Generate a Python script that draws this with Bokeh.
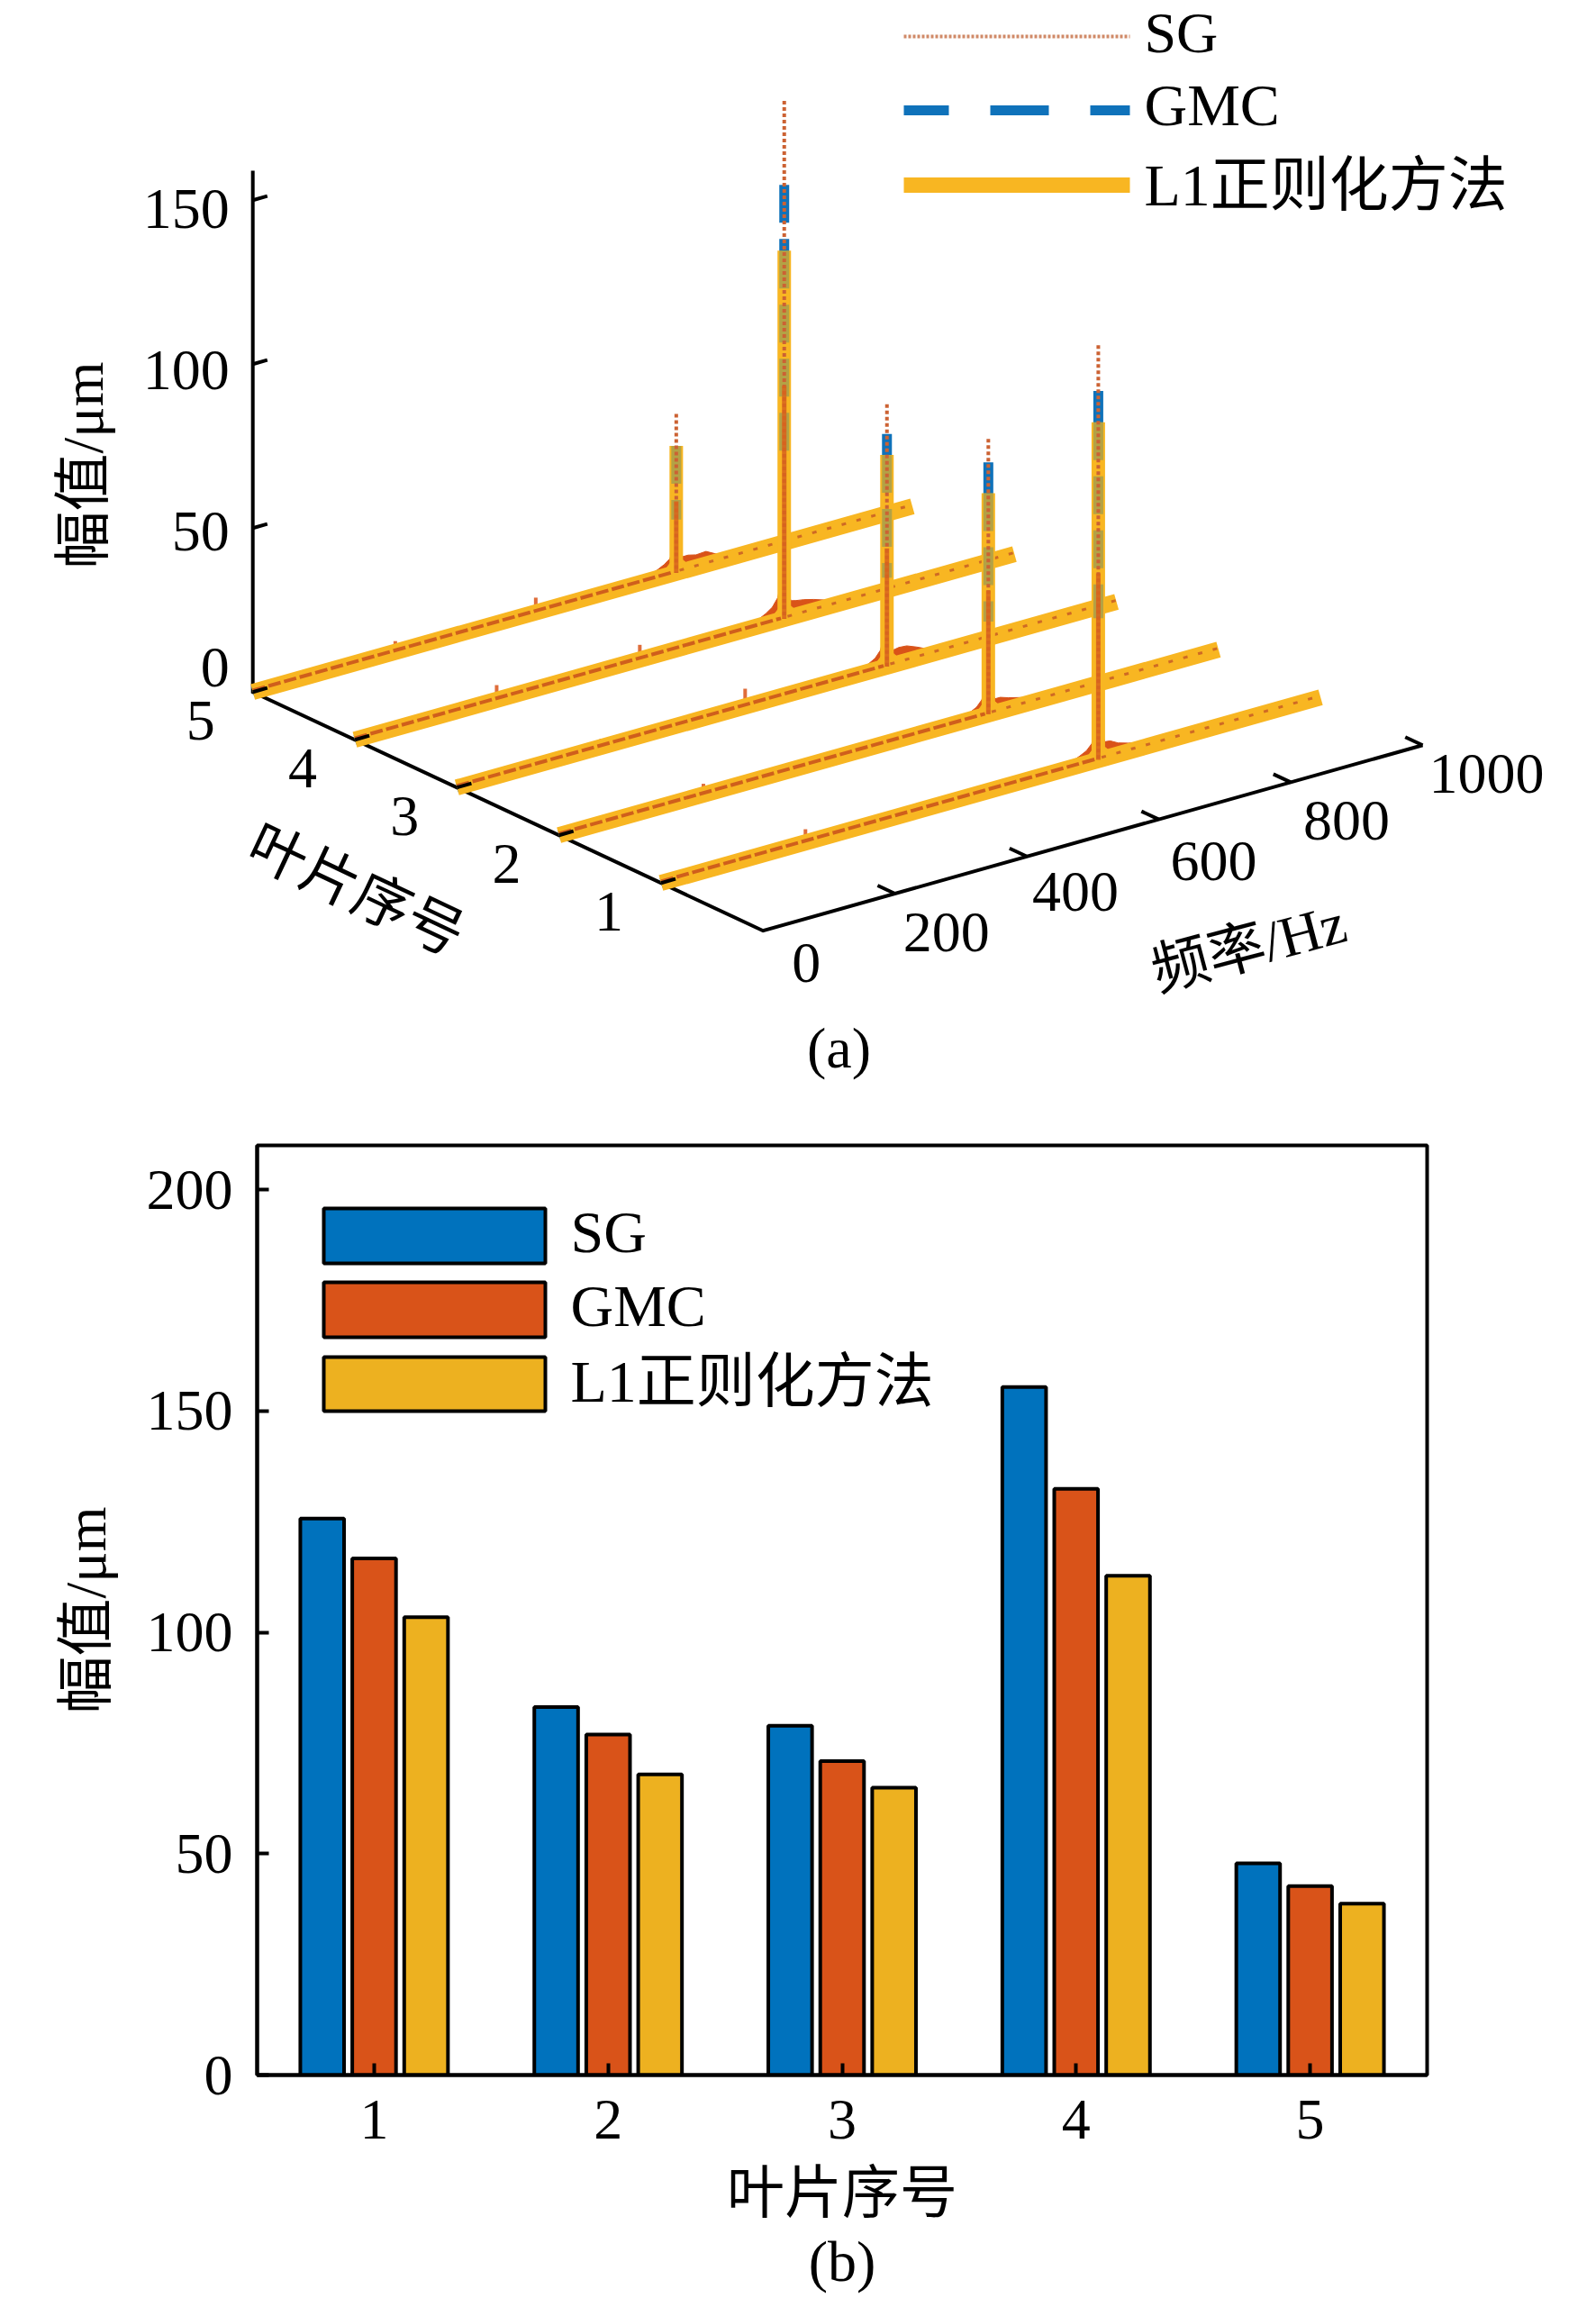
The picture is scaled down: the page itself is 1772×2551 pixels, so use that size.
from bokeh.plotting import figure
from bokeh.layouts import column
from bokeh.models import Title, FixedTicker, Range1d
from bokeh.core.properties import value
from bokeh.embed import file_html
from bokeh.resources import INLINE

# ---------- data ----------
blades = [1, 2, 3, 4, 5]
series_names = ["SG", "GMC", "L1正则化方法"]
# panel (b) bars
sg_peak = [125.7, 83.1, 78.9, 155.4, 47.8]
gmc_peak = [116.7, 76.9, 70.9, 132.4, 42.7]
l1_peak = [103.4, 67.9, 64.9, 112.8, 38.7]
# panel (a) spectra
sg_wave = [126.5, 84.0, 80.0, 158.0, 48.5]
gmc_wave = [112.5, 76.9, 70.9, 132.4, 42.7]
l1_wave = [103.0, 67.5, 64.5, 112.3, 38.7]

peak_hz = [663, 651, 652, 651, 642]
bump1_hz = [219, 219, 219, 215, 216]
bump1_um = [4.0, 3.3, 2.5, 4.5, 3.3]
bump2_hz = [438, 436, 437, 432, 429]
bump2_um = [1.5, 1.0, 5.4, 4.5, 4.5]
base_um = 0.5

skirt_offset_hz = [-60, -40, -28, -18, -10, -5, -2, 2, 5, 10, 18, 30, 45, 60, 75]
skirt_um = [
    [0.8, 1.8, 2.8, 3.8, 5.5, 9.0, 16, 16, 8.0, 5.0, 4.8, 3.5, 2.6, 1.8, 1.0],
    [0.6, 1.4, 2.2, 3.2, 5.0, 8.0, 14, 14, 7.0, 4.2, 4.2, 3.4, 2.6, 1.8, 1.0],
    [0.6, 1.5, 2.4, 3.5, 5.5, 9.0, 16, 16, 7.0, 4.5, 4.8, 4.6, 3.4, 2.0, 1.0],
    [0.8, 2.0, 3.2, 4.6, 7.0, 11.0, 20, 20, 9.0, 5.0, 4.6, 4.2, 3.4, 2.4, 1.2],
    [0.8, 1.7, 2.6, 3.6, 4.8, 7.0, 11, 11, 6.0, 4.4, 4.4, 3.8, 4.0, 2.4, 1.0],
]
l1_flare_hz = [-16, -7, -2, 2, 7, 16]
l1_flare_um = [0, 2.0, 6.0, 6.0, 2.0, 0]
freq_end = 1000
freq_ticks = [0, 200, 400, 600, 800, 1000]
blade_ticks = [1, 2, 3, 4, 5]
amp_ticks = [0, 50, 100, 150]
amp_top = 159
bar_y_ticks = [0, 50, 100, 150, 200]

# ---------- style ----------
SERIF = "Liberation Serif, Noto Sans CJK SC"
FS = "64px"
FL = "66px"
BLUE = "#0F72BA"
ORANGE = "#F8B622"
RED = "#D95319"
BAR_C = ["#0072BD", "#D95319", "#EDB120"]

# oblique projection of panel (a), in page pixels
O = (846.7, 1032.7)
FV = (732.3 / 1000, -206.0 / 1000)
BV = (-113.3, -53.0)
ZV = -3.64


def proj(f, b, a=0.0):
    return (O[0] + FV[0] * f + BV[0] * b, O[1] + FV[1] * f + BV[1] * b + ZV * a)


def pline(pts):
    return [q[0] for q in pts], [q[1] for q in pts]


# ---------- panel (a) ----------
p1 = figure(width=1772, height=1250, output_backend="svg", toolbar_location=None,
            x_range=Range1d(0, 1772), y_range=Range1d(1250, 0), min_border=0)
p1.axis.visible = False
p1.grid.visible = False
p1.outline_line_color = None
p1.background_fill_color = "white"


def txt(p, x, y, s, size=FS, angle=0.0, align="center", baseline="middle"):
    p.text([x], [y], text=[s], text_font=value(SERIF), text_font_size=value(size),
           text_align=align, text_baseline=baseline, text_color="black", angle=angle)


# axes
AX = dict(line_color="black", line_width=4)
xs, ys = pline([proj(0, 5, amp_top), proj(0, 5, 0), proj(0, 0, 0), proj(1000, 0, 0)])
p1.line(xs, ys, line_join="miter", **AX)
for f in freq_ticks[1:]:
    xs, ys = pline([proj(f, 0), proj(f, 0.17)])
    p1.line(xs, ys, **AX)
for a in amp_ticks[1:]:
    xs, ys = pline([proj(0, 5, a), proj(22, 5, a)])
    p1.line(xs, ys, **AX)

# waterfall, back to front
for i in reversed(range(5)):
    b = blades[i]
    fp = peak_hz[i]
    skirt = [(fp + d, u) for d, u in zip(skirt_offset_hz, skirt_um[i])]
    poly = [proj(skirt[0][0], b, 0)] + [proj(f, b, u) for f, u in skirt] + [proj(skirt[-1][0], b, 0)]
    xs, ys = pline(poly)
    p1.patch(xs, ys, fill_color=RED, line_color=RED, line_width=1)
    for fb, ub in ((bump1_hz[i], bump1_um[i]), (bump2_hz[i], bump2_um[i])):
        xs, ys = pline([proj(fb, b, 0), proj(fb, b, ub)])
        p1.line(xs, ys, line_color=RED, line_width=4, line_alpha=0.85)
    # GMC
    xs, ys = pline([proj(0, b), proj(freq_end, b)])
    p1.line(xs, ys, line_color=BLUE, line_width=11, line_dash="65 46")
    gx, gy = pline([proj(fp, b, gmc_wave[i]), proj(fp, b, 0)])
    offs = 45 if b == 5 else 0
    p1.line(gx, gy, line_color=BLUE, line_width=11, line_dash="42 18", line_dash_offset=offs)
    # L1
    xs, ys = pline([proj(0, b), proj(freq_end, b)])
    p1.line(xs, ys, line_color=ORANGE, line_width=18)
    xs, ys = pline([proj(fp, b, l1_wave[i]), proj(fp, b, 0)])
    p1.line(xs, ys, line_color=ORANGE, line_width=15)
    xs, ys = pline([proj(fp + d, b, u + 2) for d, u in zip(l1_flare_hz, l1_flare_um)])
    p1.patch(xs, ys, fill_color=ORANGE, line_color=ORANGE)
    # blue showing through on the upper part of the spike
    ox, oy = pline([proj(fp, b, l1_wave[i]), proj(fp, b, l1_wave[i] * 0.42)])
    p1.line(ox, oy, line_color="#5F8A70", line_width=11, line_dash="42 18", line_alpha=0.45)
    # SG centre trace
    xs, ys = pline([proj(0, b, base_um), proj(fp - 5, b, base_um)])
    p1.line(xs, ys, line_color="#CF5F1C", line_width=4, line_dash="14 4")
    xs, ys = pline([proj(fp + 5, b, base_um), proj(freq_end, b, base_um)])
    p1.line(xs, ys, line_color="#CF6A24", line_width=3, line_dash="5 12")
    xs, ys = pline([proj(fp, b, sg_wave[i]), proj(fp, b, 0)])
    p1.line(xs, ys, line_color="#CC6233", line_width=4, line_dash="4 3")
    xs, ys = pline([proj(fp, b, sg_wave[i] * 0.45), proj(fp, b, 0)])
    p1.line(xs, ys, line_color="#D8641C", line_width=5, line_alpha=0.85)

# blade ticks over the line ends
for b in blade_ticks:
    xs, ys = pline([proj(0, b), proj(22, b)])
    p1.line(xs, ys, **AX)

# tick labels
amp_off = [(-26, -27), (-26, 4), (-26, 7), (-26, 10)]
for a, (dx, dy) in zip(amp_ticks, amp_off):
    x, y = proj(0, 5, a)
    txt(p1, x + dx, y + dy, str(a), align="right")
for b in blade_ticks:
    x, y = proj(0, b)
    txt(p1, x - 58, y + 32, str(b))
freq_off = [(48, 36), (57, 43), (54, 39), (61, 46), (62, 43), (71, 32)]
for f, (dx, dy) in zip(freq_ticks, freq_off):
    x, y = proj(f, 0)
    txt(p1, x + dx, y + dy, str(f))

txt(p1, 92, 516, "幅值/μm", angle=1.5708)
txt(p1, 395, 988, "叶片序号", angle=-0.44)
txt(p1, 1386, 1051, "频率/Hz", angle=0.26)
txt(p1, 931, 1163, "(a)")

# legend of (a)
p1.line([1003, 1254], [40, 40], line_color="#D08A68", line_width=4, line_dash="3 2")
p1.line([1003, 1254], [122, 122], line_color=BLUE, line_width=11, line_dash="65 46", line_dash_offset=15)
p1.line([1003, 1254], [205, 205], line_color=ORANGE, line_width=17)
txt(p1, 1270, 36, series_names[0], align="left")
txt(p1, 1270, 116, series_names[1], size=FL, align="left")
txt(p1, 1270, 205, series_names[2], size=FL, align="left")

# ---------- panel (b) ----------
p2 = figure(frame_width=1299, frame_height=1032, output_backend="svg", toolbar_location=None,
            x_range=Range1d(0.5, 5.5), y_range=Range1d(0, 210),
            min_border_left=285, min_border_right=188, min_border_top=21, min_border_bottom=248)
p2.grid.visible = False
p2.outline_line_color = "black"
p2.outline_line_width = 4
for ax in (p2.xaxis[0], p2.yaxis[0]):
    ax.axis_line_color = "black"
    ax.axis_line_width = 4
    ax.major_tick_line_color = "black"
    ax.major_tick_line_width = 4
    ax.major_tick_in = 13
    ax.major_tick_out = 0
    ax.minor_tick_line_color = None
    ax.major_label_text_font = "Liberation Serif"
    ax.major_label_text_font_size = FS
    ax.major_label_text_color = "black"
    ax.axis_label_text_font = SERIF
    ax.axis_label_text_font_size = FS
    ax.axis_label_text_font_style = "normal"
    ax.axis_label_text_color = "black"
p2.xaxis[0].ticker = FixedTicker(ticks=blades)
p2.yaxis[0].ticker = FixedTicker(ticks=bar_y_ticks)
p2.xaxis[0].axis_label = "叶片序号"
p2.yaxis[0].axis_label = "幅值/μm"
p2.xaxis[0].major_label_standoff = 28
p2.yaxis[0].major_label_standoff = 27
p2.xaxis[0].axis_label_standoff = 22
p2.yaxis[0].axis_label_standoff = 29

bar_w = 0.187
shift = [-0.222, 0.0, 0.222]
for vals, c, dx in zip((sg_peak, gmc_peak, l1_peak), BAR_C, shift):
    p2.vbar(x=[b + dx for b in blades], top=vals, width=bar_w, bottom=0,
            fill_color=c, line_color="black", line_width=4)


# legend of (b), placed in page pixels
def dx_(px):
    return (px - 285) / 1299 * 5 + 0.5


def dy_(py):
    return (2303 - py) / 1032 * 210


leg_box = [(1341, 1402), (1423, 1484), (1506, 1566)]
leg_txt = [1367, 1449, 1533]
for (t, bt), c, ty, nm in zip(leg_box, BAR_C, leg_txt, series_names):
    p2.quad(left=[dx_(359)], right=[dx_(605)], top=[dy_(t)], bottom=[dy_(bt)],
            fill_color=c, line_color="black", line_width=4)
    txt(p2, dx_(633), dy_(ty), nm, size=FL, align="left")

p2.add_layout(Title(text="(b)", align="center", text_font=SERIF, text_font_size=FS,
                    text_font_style="normal", text_color="black", standoff=0), "below")

open("out.html", "w").write(file_html(column(column(p1), column(p2), spacing=0), INLINE))
